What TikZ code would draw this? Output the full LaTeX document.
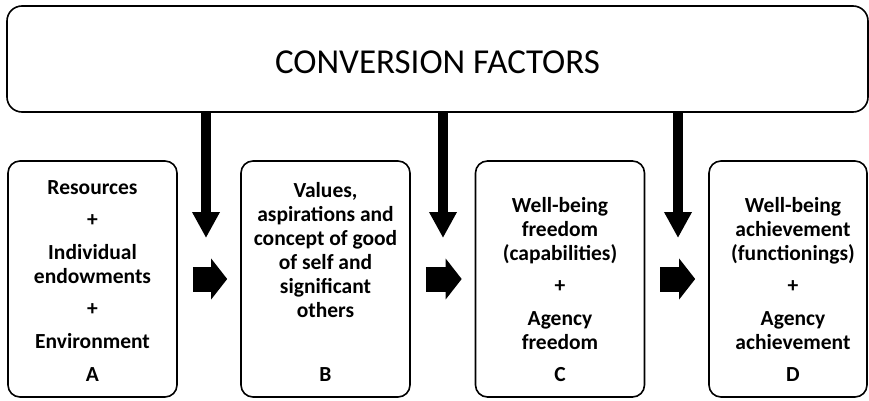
\documentclass[tikz,border=0pt]{standalone}
\usepackage{fontspec}
\setmainfont{Carlito}
\usetikzlibrary{arrows.meta,positioning}
\begin{document}
\begin{tikzpicture}[
    x=1pt, y=1pt,
    stage/.style={rectangle, draw, line width=1.6pt, rounded corners=12pt, minimum width=169pt, minimum height=236pt, inner sep=0pt},
    stagetext/.style={align=center, font=\fontsize{21.5}{24}\selectfont\bfseries},
    factorarrow/.style={line width=9.5pt, -{Triangle[length=26pt, width=26pt]}},
    steparrow/.style={line width=25pt, shorten <=15pt, shorten >=13pt, -{Triangle[length=16pt, width=40pt]}}
  ]
  \useasboundingbox (0,0) rectangle (869,400);
  \node[stage, minimum width=861pt, minimum height=106pt, rounded corners=15pt] (factors) at (437.5,341) {};
  \node[font=\fontsize{35}{40}\selectfont] (title) at (437.5,338) {CONVERSION FACTORS};

  \node[stage] (boxA) at (92.5,121) {};
  \node[stage] (boxB) at (325.5,121) {};
  \node[stage] (boxC) at (560,121) {};
  \node[stage, minimum width=158pt] (boxD) at (788,121) {};

  \node[stagetext] (textA) at (92.5,135.6) {Resources\\[8.5pt]+\\[8.5pt]Individual\\endowments\\[8.5pt]+\\[8.5pt]Environment};
  \node[stagetext] (textB) at (325.5,149.5) {Values,\\aspirations and\\concept of good\\of self and\\significant\\others};
  \node[stagetext] (textC) at (560,126.7) {Well-being\\freedom\\(capabilities)\\[8.5pt]+\\[8.5pt]Agency\\freedom};
  \node[stagetext] (textD) at (793,126.7) {Well-being\\achievement\\(functionings)\\[8.5pt]+\\[8.5pt]Agency\\achievement};

  \node[stagetext] (letterA) at (92.5,25) {A};
  \node[stagetext] (letterB) at (325.5,25) {B};
  \node[stagetext] (letterC) at (560,25) {C};
  \node[stagetext] (letterD) at (793,25) {D};

  \coordinate (drop1) at (206,162);
  \coordinate (drop2) at (443,162);
  \coordinate (drop3) at (678,162);
  \draw[factorarrow] (factors.south -| drop1) -- (drop1);
  \draw[factorarrow] (factors.south -| drop2) -- (drop2);
  \draw[factorarrow] (factors.south -| drop3) -- (drop3);

  \draw[steparrow] (boxA.east) -- (boxB.west);
  \draw[steparrow] (boxB.east) -- (boxC.west);
  \draw[steparrow] (boxC.east) -- (boxD.west);
\end{tikzpicture}
\end{document}
